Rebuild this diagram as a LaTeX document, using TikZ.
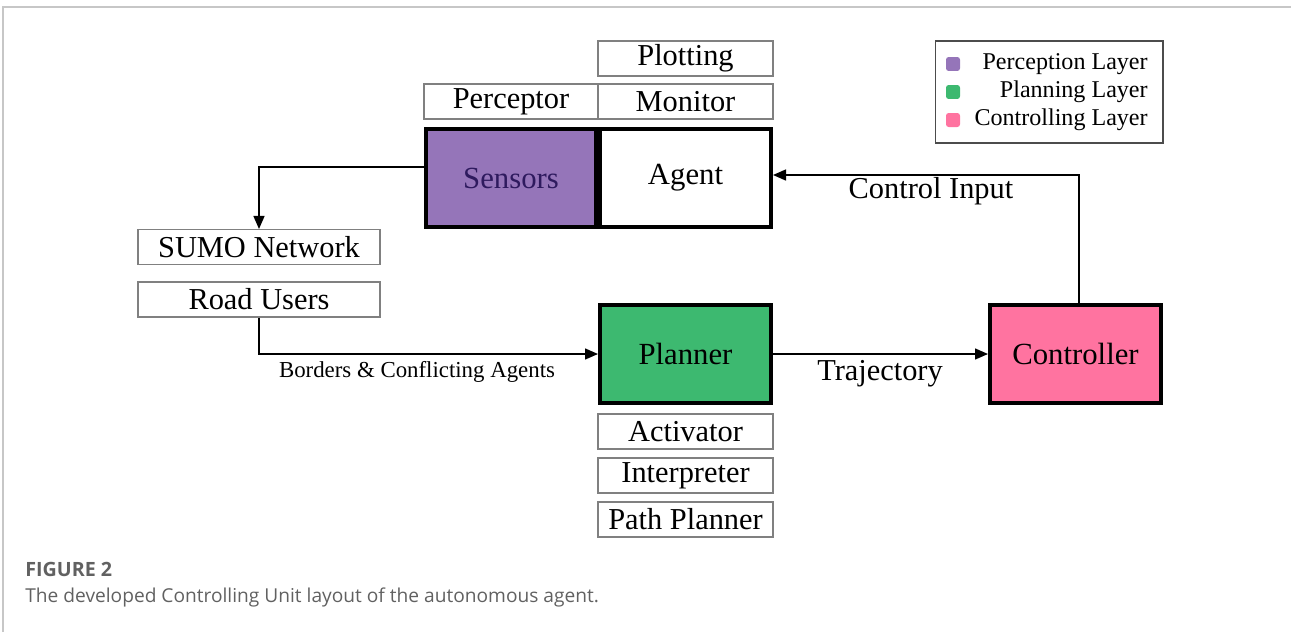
\documentclass[tikz,border=0pt]{standalone}
\usepackage{fontspec}
\setmainfont{Liberation Serif}
\newfontfamily\capfont{Open Sans}
\usetikzlibrary{arrows.meta}
\definecolor{percol}{RGB}{149,117,185}
\definecolor{plancol}{RGB}{61,185,112}
\definecolor{ctrlcol}{RGB}{255,115,160}
\definecolor{sentxt}{RGB}{46,26,94}
\tikzset{
  subbox/.style={draw=black!50,line width=0.6pt,minimum width=3.5cm,minimum height=0.7cm,inner sep=0pt,font=\fontsize{17.3}{19}\selectfont},
  mainbox/.style={draw=black,line width=2.3pt,minimum width=3.42cm,minimum height=1.96cm,inner sep=0pt,font=\fontsize{17.5}{19}\selectfont},
  arr/.style={line width=0.8pt,-{Triangle[length=0.26cm,width=0.22cm]}},
  lbl/.style={inner sep=0pt,font=\fontsize{17.3}{19}\selectfont},
  legtxt/.style={anchor=east,inner sep=0pt,font=\fontsize{13.7}{15}\selectfont},
  legsq/.style={rounded corners=1.5pt,minimum size=0.28cm,inner sep=0pt}
}
\begin{document}
\begin{tikzpicture}[x=0.02cm,y=-0.02cm]
\useasboundingbox (0,0) rectangle (1291,632);
\draw[black!22,line width=0.8pt] (3,632) -- (3,7) -- (1291,7);
\node[subbox] (plot) at (685.5,58.5) {Plotting};
\node[subbox,minimum width=3.48cm] (percep) at (511,101.5) {Perceptor};
\node[subbox] (monitor) at (685.5,101.5) {Monitor};
\node[mainbox,fill=percol,text=sentxt] (sensors) at (511,178) {Sensors};
\node[mainbox,fill=white] (agent) at (685.5,178) {Agent};
\node[subbox,minimum width=4.84cm] (sumo) at (259,247) {SUMO Network};
\node[subbox,minimum width=4.84cm] (road) at (259,299.5) {Road Users};
\node[mainbox,fill=plancol] (planner) at (685.5,354) {Planner};
\node[mainbox,fill=ctrlcol] (ctrl) at (1075.5,354) {Controller};
\node[subbox] (act) at (685.5,431.5) {Activator};
\node[subbox] (interp) at (685.5,475.5) {Interpreter};
\node[subbox] (path) at (685.5,519.5) {Path Planner};
\node[draw=black!70,line width=0.6pt,minimum width=4.56cm,minimum height=2.04cm] (legend) at (1049,92) {};
\node[legsq,fill=percol] (sqper) at (953,64) {};
\node[legsq,fill=plancol] (sqplan) at (953,92) {};
\node[legsq,fill=ctrlcol] (sqctrl) at (953,120) {};
\node[legtxt] (legper) at (1148,64) {Perception Layer};
\node[legtxt] (legplan) at (1148,92) {Planning Layer};
\node[legtxt] (legctrl) at (1148,120) {Controlling Layer};
\draw[arr] ([yshift=0.22cm]sensors.west) -| (sumo.north);
\draw[arr] (road.south) |- (planner.west);
\draw[arr] (planner.east) -- (ctrl.west);
\draw[arr] ([xshift=0.07cm]ctrl.north) |- ([yshift=0.06cm]agent.east);
\node[lbl,font=\fontsize{13}{15}\selectfont] (border) at (417,372) {Borders \& Conflicting Agents};
\node[lbl] (traj) at (880,374) {Trajectory};
\node[lbl] (cinput) at (931,191) {Control Input};
\node[anchor=west,inner sep=0pt,text=black!62,font=\capfont\bfseries\fontsize{11.2}{13}\selectfont] (figno) at (25,569) {FIGURE 2};
\node[anchor=west,inner sep=0pt,text=black!62,font=\capfont\fontsize{10.9}{13}\selectfont] (caption) at (25,597) {The developed Controlling Unit layout of the autonomous agent.};
\end{tikzpicture}
\end{document}
